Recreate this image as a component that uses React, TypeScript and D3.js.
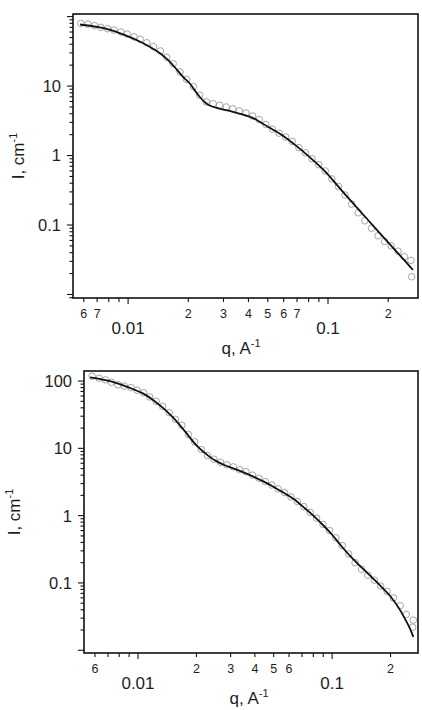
import React from 'react';
import * as d3 from 'd3';

// fitted curves, q in 1/A, I in 1/cm
const fitQTop = [0.00575, 0.007, 0.0082, 0.01, 0.0115, 0.013, 0.0145, 0.016, 0.0176, 0.019, 0.0204, 0.0216, 0.0229, 0.0243, 0.0257, 0.029, 0.0335, 0.038, 0.0422, 0.047, 0.0531, 0.06, 0.0668, 0.075, 0.0841, 0.095, 0.106, 0.124, 0.14, 0.157, 0.182, 0.205, 0.229, 0.25, 0.266];
const fitITop = [77, 71, 64, 52, 43.5, 36, 29.5, 23, 17, 13.2, 10.8, 8.6, 6.9, 5.8, 5.2, 4.7, 4.25, 3.85, 3.45, 2.9, 2.35, 1.9, 1.5, 1.15, 0.86, 0.62, 0.44, 0.26, 0.176, 0.122, 0.076, 0.052, 0.0365, 0.0276, 0.0225];

const fitQBottom = [0.00566, 0.0068, 0.00776, 0.009, 0.01065, 0.012, 0.01349, 0.015, 0.01646, 0.018, 0.01928, 0.0205, 0.02172, 0.0235, 0.02546, 0.028, 0.03098, 0.035, 0.03929, 0.0445, 0.04981, 0.056, 0.0631, 0.071, 0.08, 0.09, 0.1, 0.111, 0.124, 0.14, 0.1627, 0.18, 0.199, 0.22, 0.24, 0.252, 0.262];
const fitIBottom = [113, 103, 93, 80, 65, 52, 39.5, 29.5, 22, 16, 12.5, 10.3, 8.9, 7.4, 6.4, 5.6, 5.05, 4.4, 3.8, 3.2, 2.69, 2.2, 1.78, 1.35, 1.0, 0.72, 0.52, 0.36, 0.25, 0.176, 0.116, 0.087, 0.064, 0.043, 0.0275, 0.021, 0.0158];

// measured points (open circles)
const dataQ = [0.0058, 0.0063, 0.0068, 0.0073, 0.0079, 0.0085, 0.0092, 0.0099, 0.0107, 0.0115, 0.0124, 0.0134, 0.0145, 0.0156, 0.0168, 0.0182, 0.0196, 0.0212, 0.0228, 0.0246, 0.0266, 0.0287, 0.031, 0.0334, 0.036, 0.0389, 0.042, 0.0453, 0.0489, 0.0527, 0.0569, 0.0614, 0.0662, 0.0715, 0.0771, 0.0832, 0.0898, 0.0969, 0.1045, 0.1128, 0.1217, 0.1313, 0.1417, 0.1529, 0.165, 0.178, 0.192, 0.207, 0.224, 0.241, 0.26, 0.262];
const dataITop = [80, 78, 74, 70, 67, 64, 60, 56, 51, 47, 42, 37, 32, 26, 21, 16, 12.5, 9.8, 7.4, 5.9, 5.6, 5.3, 5.0, 4.7, 4.4, 4.1, 3.7, 3.3, 2.8, 2.4, 2.1, 1.85, 1.6, 1.3, 1.1, 0.9, 0.74, 0.6, 0.46, 0.36, 0.27, 0.2, 0.15, 0.115, 0.09, 0.07, 0.058, 0.05, 0.042, 0.035, 0.031, 0.018];
const dataIBottom = [118, 110, 104, 96, 88, 84, 80, 73, 67, 58, 50, 42, 34, 27, 22, 16, 12.5, 9.6, 7.8, 6.9, 6.2, 5.7, 5.3, 4.8, 4.5, 4.0, 3.6, 3.2, 2.85, 2.5, 2.2, 1.9, 1.62, 1.36, 1.12, 0.92, 0.74, 0.6, 0.47, 0.36, 0.27, 0.2, 0.16, 0.13, 0.11, 0.09, 0.075, 0.06, 0.046, 0.034, 0.022, 0.028];

// tick labels
const yLabelsTop = [10, 1, 0.1];
const yLabelsBottom = [100, 10, 1, 0.1];
const xMajorLabels = [0.01, 0.1];
const xMinorTop = [0.006, 0.007, 0.02, 0.03, 0.04, 0.05, 0.06, 0.07, 0.2];
const xMinorBottom = [0.006, 0.02, 0.03, 0.04, 0.05, 0.06, 0.2];

const font = '"Liberation Sans", Arial, sans-serif';
const ink = '#1e1e1e';

const digit = (v: number) => String(Math.round(v / Math.pow(10, Math.floor(Math.log10(v) + 1e-9))));
const isDecade = (v: number) => Math.abs(Math.log10(v) - Math.round(Math.log10(v))) < 1e-6;

type PanelProps = {
    left: number; right: number; top: number; bottom: number;
    xDomain: [number, number]; yDomain: [number, number];
    fitQ: number[]; fitI: number[]; pointsI: number[];
    yLabels: number[]; xMinor: number[]; yTitleX: number; xTitleX: number; xTitleDy: number;
};

const Panel = ({ left, right, top, bottom, xDomain, yDomain, fitQ, fitI, pointsI, yLabels, xMinor, yTitleX, xTitleX, xTitleDy }: PanelProps) => {
    const x = d3.scaleLog().domain(xDomain).range([left, right]);
    const y = d3.scaleLog().domain(yDomain).range([bottom, top]);

    const line = d3.line<number>()
        .x((_, i) => x(fitQ[i]))
        .y(d => y(d))
        .curve(d3.curveCatmullRom.alpha(0.5));

    const xTicks = x.ticks();
    const yTicks = y.ticks();
    const midY = (top + bottom) / 2;

    return (
        <g fontFamily={font} fill={ink}>
            {dataQ.map((q, i) => (
                <circle key={`p-${i}`} cx={x(q)} cy={y(pointsI[i])} r={3.3}
                    fill="none" stroke="#8a8a8a" strokeWidth={0.9} opacity={0.85} />
            ))}
            <path d={line(fitI) || ''} fill="none" stroke="#111" strokeWidth={1.8} />

            <rect x={left} y={top} width={right - left} height={bottom - top}
                fill="none" stroke="#111" strokeWidth={1.6} />

            {yTicks.map((t, i) => (
                <line key={`yt-${i}`} x1={left} x2={left - (isDecade(t) ? 6 : 3.5)}
                    y1={y(t)} y2={y(t)} stroke="#111" strokeWidth={1.1} />
            ))}
            {xTicks.map((t, i) => (
                <line key={`xt-${i}`} y1={bottom} y2={bottom + (isDecade(t) ? 6 : 4)}
                    x1={x(t)} x2={x(t)} stroke="#111" strokeWidth={1.1} />
            ))}

            {yLabels.map((v, i) => (
                <text key={`yl-${i}`} x={left - 12} y={y(v)} dy="0.36em"
                    textAnchor="end" fontSize={16.5}>{String(v)}</text>
            ))}
            {xMinor.map((v, i) => (
                <text key={`xm-${i}`} x={x(v)} y={bottom + 15} dy="0.36em"
                    textAnchor="middle" fontSize={12.5}>{digit(v)}</text>
            ))}
            {xMajorLabels.map((v, i) => (
                <text key={`xM-${i}`} x={x(v)} y={bottom + 30} dy="0.36em"
                    textAnchor="middle" fontSize={17}>{String(v)}</text>
            ))}

            <text x={xTitleX} y={bottom + xTitleDy} dy="0.36em" textAnchor="middle" fontSize={17}>
                q, A<tspan dy={-7} fontSize={11}>-1</tspan>
            </text>
            <text transform={`translate(${yTitleX},${midY}) rotate(-90)`} dy="0.36em" textAnchor="middle" fontSize={17}>
                I, cm<tspan dy={-7} fontSize={11}>-1</tspan>
            </text>
        </g>
    );
};

const App = () => (
    <svg width={422} height={710} viewBox="0 0 422 710"
        style={{ position: 'absolute', left: 0, top: 0, background: '#fff' }}>
        <rect width={422} height={710} fill="#fff" />
        <Panel left={73} right={418} top={14} bottom={298}
            xDomain={[0.0053, 0.282]} yDomain={[0.0089, 109]}
            fitQ={fitQTop} fitI={fitITop} pointsI={dataITop}
            yLabels={yLabelsTop} xMinor={xMinorTop} yTitleX={18} xTitleX={241} xTitleDy={50} />
        <Panel left={84} right={418} top={371} bottom={653}
            xDomain={[0.00527, 0.277]} yDomain={[0.0091, 141]}
            fitQ={fitQBottom} fitI={fitIBottom} pointsI={dataIBottom}
            yLabels={yLabelsBottom} xMinor={xMinorBottom} yTitleX={14} xTitleX={249} xTitleDy={45} />
    </svg>
);

export default App;
